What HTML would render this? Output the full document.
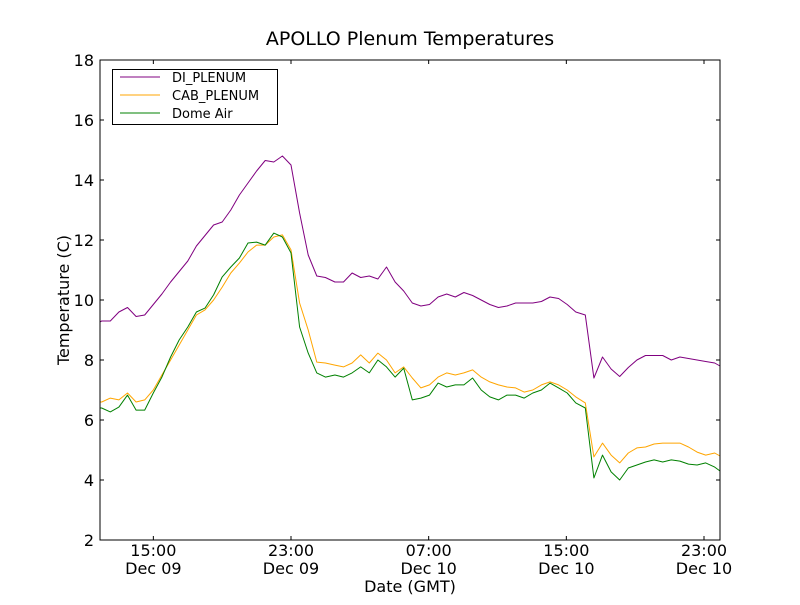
<!DOCTYPE html>
<html><head><meta charset="utf-8"><style>
body{margin:0;background:#fff;}
svg text{font-family:"DejaVu Sans","Liberation Sans",sans-serif;}
</style></head><body>
<svg id="chart" width="800" height="600" xmlns="http://www.w3.org/2000/svg">
<rect width="800" height="600" fill="#fff"/>
<text x="410" y="45" font-size="19" text-anchor="middle">APOLLO Plenum Temperatures</text>
<text transform="translate(69,300) rotate(-90)" font-size="16" text-anchor="middle">Temperature (C)</text>
<text x="410" y="592" font-size="16" text-anchor="middle">Date (GMT)</text>
<g id="plot"></g>
<g id="axes"></g>
<g id="legend">
<rect x="112.5" y="69.5" width="165" height="55" fill="#fff" stroke="#000"/>
<line x1="120" y1="77" x2="160" y2="77" stroke="purple"/>
<text x="172" y="82" font-size="13">DI_PLENUM</text>
<line x1="120" y1="95" x2="160" y2="95" stroke="orange"/>
<text x="172" y="100" font-size="13">CAB_PLENUM</text>
<line x1="120" y1="113" x2="160" y2="113" stroke="green"/>
<text x="172" y="118" font-size="13">Dome Air</text>
</g>
</svg>
<script>
// hours since Dec 09 00:00 GMT
const times=[11.9,12,12.5,13,13.5,14,14.5,15,15.5,16,16.5,17,17.5,18,18.5,19,19.5,20,20.5,21,21.5,22,22.5,23,23.5,24,24.5,25,25.55,26.05,26.55,27.05,27.55,28.05,28.55,29.05,29.55,30.05,30.55,31.05,31.55,32.05,32.55,33.05,33.55,34.05,34.55,35.05,35.55,36.05,36.55,37.05,37.55,38.05,38.55,39.05,39.55,40.1,40.6,41.1,41.6,42.1,42.6,43.1,43.6,44.1,44.6,45.1,45.6,46.1,46.6,47.1,47.62,47.93];
const diPlenum=[9.27,9.3,9.3,9.6,9.75,9.45,9.5,9.85,10.2,10.6,10.95,11.3,11.8,12.15,12.5,12.6,13.0,13.5,13.9,14.3,14.65,14.6,14.8,14.5,12.9,11.5,10.8,10.75,10.6,10.6,10.9,10.75,10.8,10.7,11.1,10.6,10.3,9.9,9.8,9.85,10.1,10.2,10.1,10.25,10.15,10.0,9.85,9.75,9.8,9.9,9.9,9.9,9.95,10.1,10.05,9.85,9.6,9.5,7.4,8.1,7.7,7.45,7.75,8.0,8.15,8.15,8.15,8.0,8.1,8.05,8.0,7.95,7.9,7.8];
const cabPlenum=[6.6,6.6,6.73,6.67,6.9,6.6,6.67,7.0,7.5,8.0,8.5,9.0,9.5,9.67,10.0,10.43,10.9,11.23,11.6,11.83,11.83,12.1,12.17,11.67,9.9,9.0,7.93,7.9,7.83,7.77,7.9,8.17,7.9,8.23,8.0,7.57,7.77,7.4,7.07,7.17,7.43,7.57,7.5,7.57,7.67,7.43,7.27,7.17,7.1,7.07,6.93,7.0,7.17,7.27,7.17,7.0,6.77,6.57,4.77,5.23,4.83,4.57,4.9,5.07,5.1,5.2,5.23,5.23,5.23,5.1,4.93,4.83,4.9,4.8];
const domeAir=[6.4,6.4,6.27,6.43,6.83,6.33,6.33,6.9,7.43,8.1,8.67,9.1,9.6,9.73,10.17,10.77,11.1,11.4,11.9,11.93,11.83,12.23,12.1,11.57,9.1,8.23,7.57,7.43,7.5,7.43,7.57,7.77,7.57,8.0,7.77,7.43,7.73,6.67,6.73,6.83,7.23,7.1,7.17,7.17,7.4,7.0,6.77,6.67,6.83,6.83,6.73,6.9,7.0,7.23,7.07,6.9,6.57,6.4,4.07,4.83,4.27,4.0,4.4,4.5,4.6,4.67,4.6,4.67,4.63,4.53,4.5,4.57,4.43,4.3];
const yTicks=[2,4,6,8,10,12,14,16,18];
const xTicks=[15,23,31,39,47];
const xTickLabels=[["15:00","Dec 09"],["23:00","Dec 09"],["07:00","Dec 10"],["15:00","Dec 10"],["23:00","Dec 10"]];

const L=100,R=720,T=60,B=540,t0=11.9,t1=47.93,y0=2,y1=18;
const sx=t=>L+(t-t0)/(t1-t0)*(R-L);
const sy=v=>B-(v-y0)/(y1-y0)*(B-T);
const NS="http://www.w3.org/2000/svg";
const plot=document.getElementById('plot'),axes=document.getElementById('axes');
function mk(tag,attrs,parent){const e=document.createElementNS(NS,tag);for(const k in attrs)e.setAttribute(k,attrs[k]);parent.appendChild(e);return e;}
const series=[[diPlenum,'purple','di-plenum-line'],[cabPlenum,'orange','cab-plenum-line'],[domeAir,'green','dome-air-line']];
for(const [vals,col,name] of series){
  const d=vals.map((v,i)=>(i?'L':'M')+sx(times[i]).toFixed(1)+','+sy(v).toFixed(1)).join('');
  const p=mk('path',{d:d,fill:'none',stroke:col,'stroke-width':1,'stroke-linejoin':'round'},plot);
  
  
}
const frame=mk('rect',{x:L,y:T,width:R-L,height:B-T,fill:'none',stroke:'#000'},axes);


yTicks.forEach(v=>{
  const y=sy(v);
  mk('line',{x1:L,y1:y,x2:L+4,y2:y,stroke:'#000'},axes);
  mk('line',{x1:R,y1:y,x2:R-4,y2:y,stroke:'#000'},axes);
  const t=mk('text',{x:L-6,y:y+6,'font-size':16,'text-anchor':'end'},axes);
  t.textContent=v;
  
  
});
xTicks.forEach((h,i)=>{
  const x=sx(h);
  mk('line',{x1:x,y1:B,x2:x,y2:B-4,stroke:'#000'},axes);
  mk('line',{x1:x,y1:T,x2:x,y2:T+4,stroke:'#000'},axes);
  const t=mk('text',{x:x,y:556,'font-size':16,'text-anchor':'middle'},axes);
  t.textContent=xTickLabels[i][0];
  
  
  const t2=mk('text',{x:x,y:574,'font-size':16,'text-anchor':'middle'},axes);
  t2.textContent=xTickLabels[i][1];
  
  
});
</script>
</body></html>
